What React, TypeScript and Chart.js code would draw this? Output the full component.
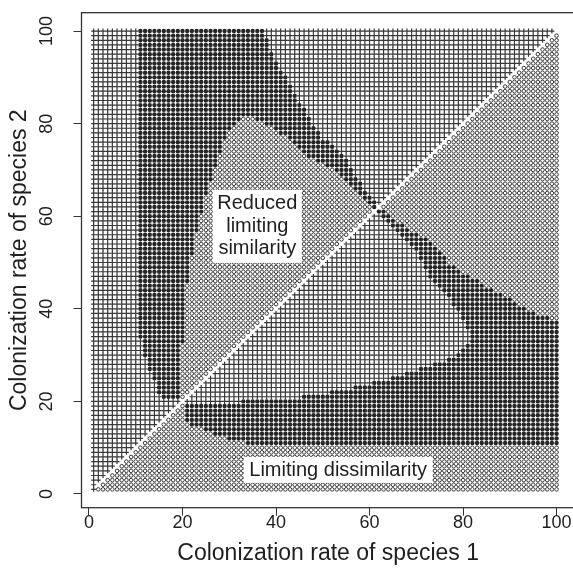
import React, { useEffect, useRef } from "react";
import { Chart, registerables } from "chart.js";

Chart.register(...registerables);

// Grid of simulated colonization rates (1..100 for both species)
const GRID_N = 100;
const FIRST_ROW = 21;

// Region boundaries in the upper triangle (x < y), one entry per row y = 21..100.
// darkStart: first x of the dark (coexistence) region
const darkStart = [
  16, 15, 15, 15, 14, 14, 13, 13, 13, 12, 12, 12, 12,
  11, 11, 11, 11, 11, 11, 11, 11, 11, 11, 11, 11, 11, 11, 11, 11, 11, 11, 11, 11,
  11, 11, 11, 11, 11, 11, 11, 11, 11, 11, 11, 11, 11, 11, 11, 11, 11, 11, 11, 11,
  11, 11, 11, 11, 11, 11, 11, 11, 11, 11, 11, 11, 11, 11, 11, 11, 11, 11, 11, 11,
  11, 11, 11, 11, 11, 11, 11,
];
// innerStart / innerEnd: x-range of the "reduced limiting similarity" region (0 = none)
const innerStart = [
  20, 20, 20, 20, 20, 20, 20, 20, 20, 20, 20, 20,
  21, 21, 21, 21, 21, 21, 21, 21, 21, 21, 21, 21, 21,
  22, 22, 22, 22, 22, 22,
  23, 23, 23, 23, 23,
  24, 24, 24, 24,
  25, 25, 25, 25,
  26, 26, 26,
  27, 27, 27,
  28, 28, 28,
  29, 29, 29,
  30, 30,
  31, 32, 33,
  0, 0, 0, 0, 0, 0, 0, 0, 0, 0, 0, 0, 0, 0, 0, 0, 0, 0, 0,
];
const innerEnd = [
  20, 21, 22, 23, 24, 25, 26, 27, 28, 29, 30, 31, 32, 33, 34, 35, 36, 37, 38, 39,
  40, 41, 42, 43, 44, 45, 46, 47, 48, 49, 50, 51, 52, 53, 54, 55, 56, 57, 58, 59, 60,
  60, 59, 58, 57, 56, 55, 54, 53, 52, 50, 48, 46, 45, 44, 43, 42, 40, 39, 37, 35,
  0, 0, 0, 0, 0, 0, 0, 0, 0, 0, 0, 0, 0, 0, 0, 0, 0, 0, 0,
];
// darkEnd: last x of the dark region in that row
const darkEnd = [
  20, 21, 22, 23, 24, 25, 26, 27, 28, 29, 30, 31, 32, 33, 34, 35, 36, 37, 38, 39,
  40, 41, 42, 43, 44, 45, 46, 47, 48, 49, 50, 51, 52, 53, 54, 55, 56, 57, 58, 59, 60,
  61, 61, 60, 59, 58, 58, 57, 56, 56, 55, 55, 54, 53, 52, 51, 49, 49, 48, 47, 47,
  46, 46, 45, 44, 44, 43, 43, 42, 42, 41, 40, 40, 39, 39, 38, 38, 38, 37, 37,
];

const xTicks = [0, 20, 40, 60, 80, 100];
const yTicks = [0, 20, 40, 60, 80, 100];
const xTitle = "Colonization rate of species 1";
const yTitle = "Colonization rate of species 2";
const innerLabel = ["Reduced", "limiting", "similarity"];
const outerLabel = "Limiting dissimilarity";

type Region = "outer" | "inner" | "dark";

function upperRegion(x: number, y: number): Region {
  if (y < FIRST_ROW) return "outer";
  const i = y - FIRST_ROW;
  if (x < darkStart[i]) return "outer";
  if (innerStart[i] > 0 && x >= innerStart[i] && x <= innerEnd[i]) return "inner";
  if (x <= darkEnd[i]) return "dark";
  return "outer";
}

function buildPoints() {
  const cross: { x: number; y: number }[] = [];
  const circle: { x: number; y: number }[] = [];
  const dark: { x: number; y: number }[] = [];
  for (let y = 1; y <= GRID_N; y++) {
    for (let x = 1; x <= GRID_N; x++) {
      if (x === y) {
        if (x === 1) cross.push({ x, y });
        continue;
      }
      if (x < y) {
        const r = upperRegion(x, y);
        if (r === "dark") dark.push({ x, y });
        else if (r === "inner") circle.push({ x, y });
        else cross.push({ x, y });
      } else {
        const r = upperRegion(y, x);
        if (r === "dark") dark.push({ x, y });
        else if (r === "inner") cross.push({ x, y });
        else circle.push({ x, y });
      }
    }
  }
  return { cross, circle, dark };
}

const FONT = '"Liberation Sans", Arial, Helvetica, sans-serif';
const INK = "#1e1e1e";

const decorPlugin = {
  id: "decor",
  afterDatasetsDraw(chart: any) {
    const ctx = chart.ctx as CanvasRenderingContext2D;
    const xs = chart.scales.x;
    const ys = chart.scales.y;
    ctx.save();
    ctx.font = `20px ${FONT}`;
    ctx.textAlign = "center";
    ctx.textBaseline = "middle";
    // inner label
    {
      const cx = xs.getPixelForValue(36.0);
      const cy = ys.getPixelForValue(57.8);
      const w = 89;
      const h = 73;
      ctx.fillStyle = "#ffffff";
      ctx.fillRect(cx - w / 2, cy - h / 2, w, h);
      ctx.fillStyle = INK;
      innerLabel.forEach((t, k) => {
        ctx.fillText(t, cx, cy + (k - 1) * 22.5);
      });
    }
    // outer label
    {
      const cx = xs.getPixelForValue(53.3);
      const cy = ys.getPixelForValue(5.2);
      const w = ctx.measureText(outerLabel).width + 11;
      const h = 26;
      ctx.fillStyle = "#ffffff";
      ctx.fillRect(cx - w / 2, cy - h / 2, w, h);
      ctx.fillStyle = INK;
      ctx.fillText(outerLabel, cx, cy + 1);
    }
    ctx.restore();
  },
  afterDraw(chart: any) {
    const ctx = chart.ctx as CanvasRenderingContext2D;
    const { left, top, right, bottom } = chart.chartArea;
    const xs = chart.scales.x;
    const ys = chart.scales.y;
    ctx.save();
    ctx.strokeStyle = "#333333";
    ctx.lineWidth = 1.3;
    ctx.strokeRect(left, top, right - left, bottom - top);
    ctx.fillStyle = INK;
    // x tick labels
    ctx.font = `18px ${FONT}`;
    ctx.textAlign = "center";
    ctx.textBaseline = "middle";
    xTicks.forEach((v) => {
      ctx.fillText(String(v), xs.getPixelForValue(v), 523);
    });
    // y tick labels (rotated)
    yTicks.forEach((v) => {
      ctx.save();
      ctx.translate(47, ys.getPixelForValue(v));
      ctx.rotate(-Math.PI / 2);
      ctx.fillText(String(v), 0, 0);
      ctx.restore();
    });
    // titles
    ctx.font = `23px ${FONT}`;
    ctx.fillText(xTitle, (left + right) / 2, 554);
    ctx.save();
    ctx.translate(20, (top + bottom) / 2);
    ctx.rotate(-Math.PI / 2);
    ctx.fillText(yTitle, 0, 0);
    ctx.restore();
    ctx.restore();
  },
};

export default function App() {
  const ref = useRef<HTMLCanvasElement | null>(null);
  useEffect(() => {
    if (!ref.current) return;
    const { cross, circle, dark } = buildPoints();
    const chart = new Chart(ref.current, {
      type: "scatter",
      data: {
        datasets: [
          {
            label: "cross",
            data: cross,
            pointStyle: "cross",
            pointRadius: 2.5,
            pointBorderWidth: 1.2,
            borderColor: "#383838",
            backgroundColor: "#383838",
          },
          {
            label: "circle",
            data: circle,
            pointStyle: "circle",
            pointRadius: 1.8,
            pointBorderWidth: 1,
            borderColor: "#383838",
            backgroundColor: "rgba(0,0,0,0)",
          },
          {
            label: "dark",
            data: dark,
            pointStyle: "circle",
            pointRadius: 2.2,
            pointBorderWidth: 0,
            borderColor: "#262626",
            backgroundColor: "#262626",
          },
        ],
      } as any,
      options: {
        responsive: false,
        animation: false,
        devicePixelRatio: 1,
        events: [],
        plugins: { legend: { display: false }, tooltip: { enabled: false } },
        layout: { padding: { left: 0, right: 4.6, top: 12.7, bottom: 0 } },
        scales: {
          x: {
            type: "linear",
            min: -1.6,
            max: 103.9,
            afterBuildTicks: (s: any) => {
              s.ticks = xTicks.map((v) => ({ value: v }));
            },
            afterFit: (s: any) => {
              s.height = 65.3;
            },
            ticks: { display: false },
            grid: { drawOnChartArea: false, drawTicks: true, tickLength: 8, color: "#333333", lineWidth: 1 },
            border: { display: false },
          },
          y: {
            type: "linear",
            min: -2.96,
            max: 103.96,
            afterBuildTicks: (s: any) => {
              s.ticks = yTicks.map((v) => ({ value: v }));
            },
            afterFit: (s: any) => {
              s.width = 81.5;
            },
            ticks: { display: false },
            grid: { drawOnChartArea: false, drawTicks: true, tickLength: 8, color: "#333333", lineWidth: 1 },
            border: { display: false },
          },
        },
      } as any,
      plugins: [decorPlugin],
    });
    return () => chart.destroy();
  }, []);
  return (
    <div style={{ position: "absolute", left: 0, top: 0, width: 573, height: 573, overflow: "hidden", background: "#fff" }}>
      <canvas ref={ref} width={580} height={573} style={{ display: "block" }} />
    </div>
  );
}
